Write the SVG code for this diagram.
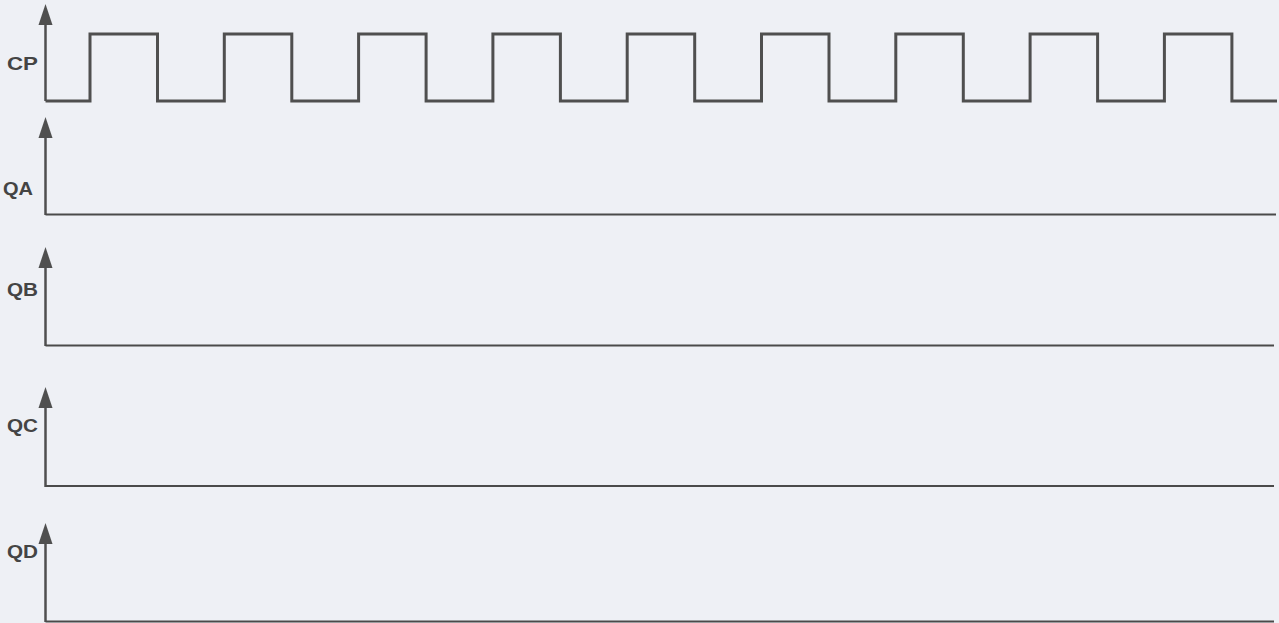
<svg xmlns="http://www.w3.org/2000/svg" width="1279" height="623" viewBox="0 0 1279 623">
  <style>
    .bg { fill: #eef0f5; }
    .axis { stroke: #4f4f4f; stroke-width: 2.5; fill: none; }
    .base { stroke: #4a4a4a; stroke-width: 2; fill: none; }
    .wave { stroke: #4f4f4f; stroke-width: 3; fill: none; stroke-linejoin: miter; }
    .lbl { font-family: "Liberation Sans", Arial, sans-serif; font-weight: bold; font-size: 18px; fill: #444444; }
  </style>
  <defs>
    <path id="arrow" d="M0,0 L7,21 L-7,21 Z" fill="#4f4f4f"/>
  </defs>
  <rect class="bg" x="0" y="0" width="1279" height="623"/>

  <g id="CP">
    <text class="lbl" x="7" y="70" textLength="31" lengthAdjust="spacingAndGlyphs">CP</text>
    <line class="axis" x1="45.5" y1="20" x2="45.5" y2="101"/>
    <use href="#arrow" x="45.5" y="4"/>
    <path class="wave" d="M45.5,101 H90 V34 H157.5 V101 H224.3 V34 H291.8 V101 H358.6 V34 H426.1 V101 H492.9 V34 H560.4 V101 H627.2 V34 H694.7 V101 H761.5 V34 H829 V101 H895.8 V34 H963.3 V101 H1030.1 V34 H1097.6 V101 H1164.4 V34 H1231.9 V101 H1277"/>
  </g>

  <g id="QA">
    <text class="lbl" x="3" y="195" textLength="30" lengthAdjust="spacingAndGlyphs">QA</text>
    <line class="axis" x1="45.5" y1="132" x2="45.5" y2="215"/>
    <use href="#arrow" x="45.5" y="117"/>
    <line class="base" x1="45.5" y1="214.5" x2="1276" y2="214.5"/>
  </g>

  <g id="QB">
    <text class="lbl" x="7" y="296" textLength="31" lengthAdjust="spacingAndGlyphs">QB</text>
    <line class="axis" x1="45.5" y1="262" x2="45.5" y2="346"/>
    <use href="#arrow" x="45.5" y="247"/>
    <line class="base" x1="45.5" y1="345.5" x2="1274" y2="345.5"/>
  </g>

  <g id="QC">
    <text class="lbl" x="7" y="432" textLength="31" lengthAdjust="spacingAndGlyphs">QC</text>
    <line class="axis" x1="45.5" y1="402" x2="45.5" y2="487"/>
    <use href="#arrow" x="45.5" y="387"/>
    <line class="base" x1="45.5" y1="486" x2="1274" y2="486"/>
  </g>

  <g id="QD">
    <text class="lbl" x="7" y="558" textLength="31" lengthAdjust="spacingAndGlyphs">QD</text>
    <line class="axis" x1="45.5" y1="538" x2="45.5" y2="622"/>
    <use href="#arrow" x="45.5" y="523"/>
    <line class="base" x1="45.5" y1="621.5" x2="1274" y2="621.5"/>
  </g>

  <g id="connectors"></g>
</svg>
